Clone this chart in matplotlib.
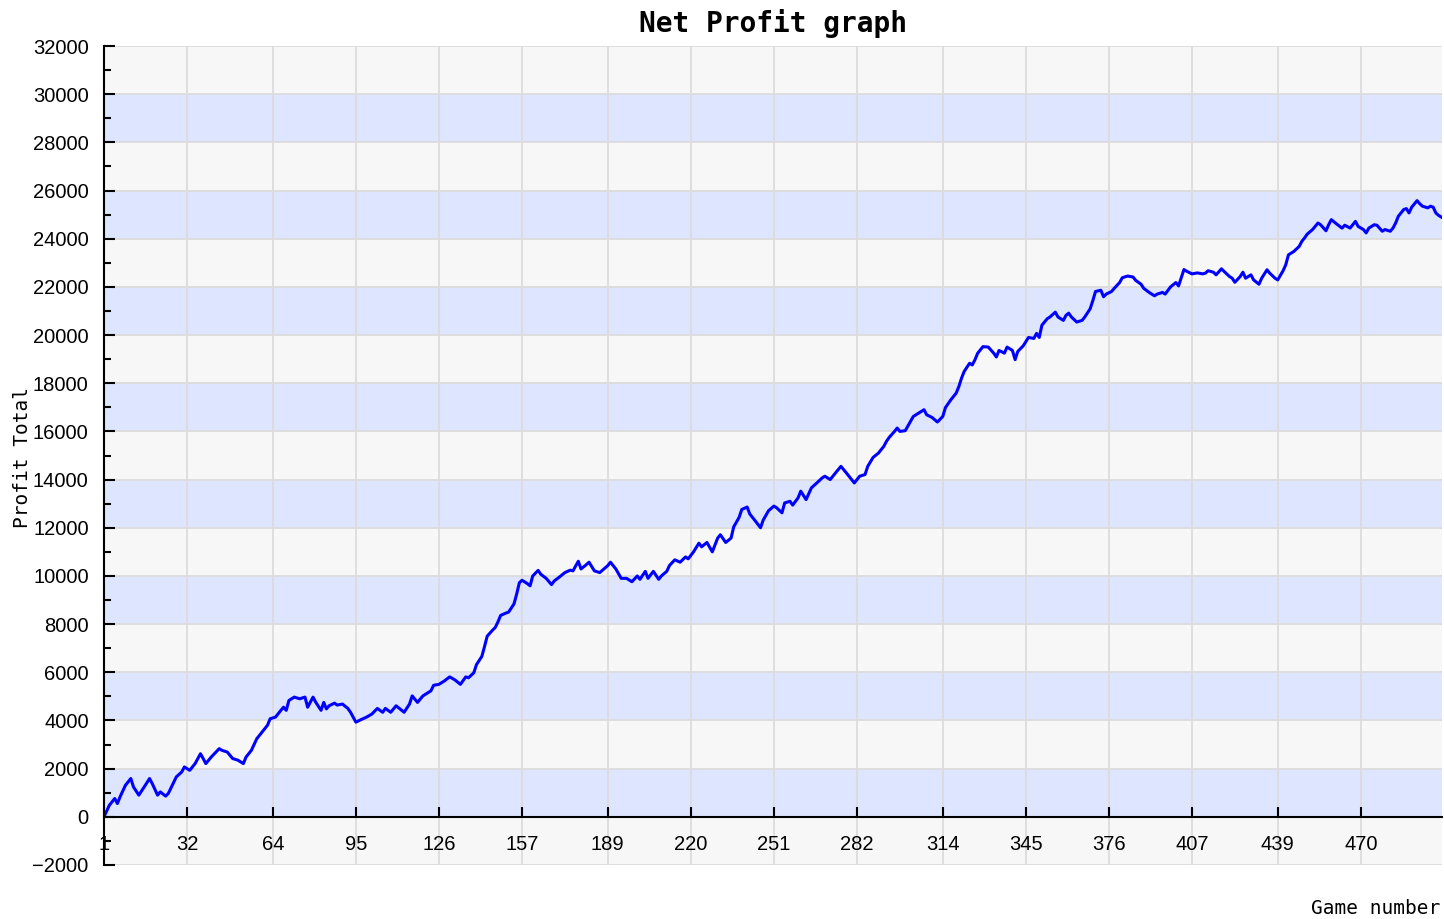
import matplotlib
matplotlib.use("Agg")
import matplotlib.pyplot as plt
from matplotlib.ticker import MultipleLocator

# ---- data ----
games = [1, 3, 5, 6, 7, 9, 11, 12, 14, 16, 18, 19, 21, 22, 24, 25, 28, 30, 31, 33, 35, 37, 38, 39, 41,
         44, 45, 47, 49, 51, 53, 54, 56, 58, 59, 60, 62, 63, 65, 67, 68, 69, 70, 72, 74, 76, 77, 79, 80, 82,
         83, 84, 85, 87, 88, 90, 92, 93, 95, 97, 99, 101, 103, 105, 106, 108, 110, 113, 115, 116, 118, 120,
         123, 124, 126, 128, 130, 132, 134, 136, 137, 139, 140, 142, 143, 144, 146, 147, 148, 149, 151, 152,
         154, 155, 156, 157, 159, 160, 161, 163, 164,
         166, 168, 169, 171, 173, 175, 176, 178, 179, 181, 182, 184, 186, 188, 189, 190, 192, 194, 196, 198,
         200, 201, 203, 204, 206, 208, 209, 211, 212, 214, 216, 218, 219, 221, 223, 224, 226, 228, 230, 231,
         233, 235, 236, 238, 239, 241, 242, 244, 246, 247, 249,
         251, 252, 254, 255, 257, 258, 260, 261, 263, 265, 267, 269, 270, 272, 274, 276, 278, 280, 281, 283,
         285, 286, 288, 290, 292, 293, 294, 296, 297, 298, 300, 302, 303, 305, 307, 308, 310, 312, 314, 315,
         317, 319, 320, 321, 322, 324, 325, 326, 327, 329,
         331, 333, 334, 335, 337, 338, 340, 341, 342, 344, 346, 348, 349, 350, 351, 353, 354, 356, 357, 359,
         360, 361, 362, 364, 366, 367, 369, 370, 371, 373, 374, 375, 377, 378, 380, 381, 383, 385, 386, 388,
         389, 391, 393, 394, 396, 397, 399, 401, 402, 403, 404, 405, 407, 409,
         411, 412, 413, 415, 416, 418, 419, 421, 422, 423, 425, 426, 427, 429, 430, 432, 433, 435, 436, 438,
         439, 441, 442, 443, 445, 447, 448, 449, 450, 452, 454, 455, 457, 458, 459, 461, 463, 464, 466, 468,
         469, 471, 472, 473, 475, 476, 478, 479, 481, 482, 483, 484, 486, 487, 488, 489, 491, 492, 493, 495,
         496, 497, 498, 499, 500]

profit = [0, 480, 760, 550, 830, 1310, 1590, 1240, 900, 1240, 1590, 1380, 900, 1035, 860, 970, 1660, 1860, 2070, 1930,
          2210, 2620, 2420, 2210, 2480, 2830, 2760, 2690, 2420, 2350, 2210, 2480, 2760, 3240, 3380, 3520, 3800, 4070, 4140, 4420,
          4550, 4420, 4830, 4970, 4900, 4970, 4550, 4970, 4760, 4420,
          4750, 4480, 4610, 4720, 4640, 4680, 4500, 4340, 3930, 4040, 4140, 4270, 4500, 4340, 4500, 4340, 4610, 4340, 4680, 5020,
          4750, 5020, 5230, 5460, 5500, 5640, 5810, 5680, 5500, 5810, 5770, 5980, 6320, 6660, 7070, 7500, 7750, 7860, 8090, 8360,
          8460, 8500, 8840, 9250, 9720, 9820, 9680, 9590, 10000, 10230, 10070,
          9900, 9640, 9790, 9960, 10140, 10240, 10210, 10610, 10290, 10470, 10570, 10210, 10140, 10330, 10430, 10570, 10290, 9900, 9900, 9760,
          10000, 9860, 10190, 9900, 10190, 9860, 10000, 10190, 10430, 10670, 10570, 10790, 10710, 11000, 11360, 11210, 11390, 11000, 11570, 11710,
          11390, 11570, 12040, 12430, 12760, 12860, 12570, 12290, 12000, 12320, 12710,
          12900, 12830, 12620, 13030, 13100, 12940, 13240, 13520, 13170, 13660, 13860, 14070, 14140, 14000, 14280, 14550, 14280, 14000, 13860, 14140,
          14210, 14550, 14920, 15100, 15380, 15590, 15750, 16000, 16140, 16000, 16030, 16420, 16620, 16760, 16900, 16690, 16580, 16390, 16620, 16990,
          17310, 17590, 17860, 18210, 18490, 18830, 18760, 18970, 19240, 19520,
          19500, 19250, 19090, 19360, 19250, 19500, 19360, 18980, 19320, 19550, 19900, 19860, 20070, 19900, 20410, 20680, 20750, 20950, 20750, 20610,
          20820, 20910, 20750, 20540, 20610, 20750, 21090, 21430, 21810, 21860, 21590, 21700, 21810, 21940, 22180, 22380, 22450, 22410, 22270, 22110,
          21940, 21770, 21630, 21700, 21770, 21700, 22000, 22180, 22040, 22380, 22720, 22650, 22540, 22580,
          22540, 22570, 22670, 22610, 22500, 22750, 22640, 22430, 22360, 22190, 22430, 22610, 22360, 22500, 22290, 22110, 22360, 22710, 22570, 22360,
          22290, 22670, 22920, 23330, 23470, 23680, 23890, 24030, 24190, 24380, 24650, 24580, 24330, 24580, 24790, 24610, 24440, 24560, 24440, 24720,
          24510, 24380, 24240, 24440, 24580, 24560, 24310, 24380, 24310, 24440, 24650, 24930, 25210, 25250, 25070, 25310, 25580, 25450, 25350, 25280,
          25350, 25310, 25070, 24970, 24900]

x_tick_labels = [1, 32, 64, 95, 126, 157, 189, 220, 251, 282, 314, 345, 376, 407, 439, 470]
y_ticks = list(range(-2000, 32001, 2000))

title = "Net Profit graph"
xlabel = "Game number"
ylabel = "Profit Total"

W, H = 1444, 919
fig = plt.figure(figsize=(W / 100, H / 100), dpi=100)
fig.patch.set_facecolor("white")
left, right, top, bottom = 104, 1442, 46, 865
ax = fig.add_axes([left / W, 1 - bottom / H, (right - left) / W, (bottom - top) / H])

ax.set_xlim(1, 500.3)
ax.set_ylim(-2000, 32000)

# alternating bands
for y0 in y_ticks[:-1]:
    col = "#dde5ff" if y0 % 4000 == 0 else "#f7f7f7"
    ax.axhspan(y0, y0 + 2000, color=col, zorder=0, lw=0)

ax.set_xticks(x_tick_labels)
ax.set_xticklabels([str(v) for v in x_tick_labels])
ax.set_yticks(y_ticks)
ax.yaxis.set_minor_locator(MultipleLocator(1000))
ax.grid(True, which="major", color="#dcdcdc", lw=1.3, zorder=1)
ax.set_axisbelow(True)

ax.plot(games, profit, color="#0000ff", lw=2.2, zorder=3)

for s in ["top", "right"]:
    ax.spines[s].set_visible(False)
ax.spines["bottom"].set_position(("data", 0))
ax.spines["bottom"].set_linewidth(1.5)
ax.spines["left"].set_linewidth(1.5)
ax.spines["bottom"].set_zorder(4)
ax.spines["left"].set_zorder(4)

tickfont = "Liberation Sans"
ax.tick_params(axis="x", direction="in", length=7, width=1.5, pad=13, labelsize=14.5)
ax.tick_params(axis="y", which="major", direction="in", length=8, width=1.5, pad=11, labelsize=14.5)
ax.tick_params(axis="y", which="minor", direction="in", length=5, width=1.5)
for lab in ax.get_xticklabels() + ax.get_yticklabels():
    lab.set_fontfamily(tickfont)

fig.text(773 / W, 1 - 24 / H, title, ha="center", va="center",
         fontsize=20, fontweight="bold", family="DejaVu Sans Mono")
fig.text(1440 / W, 1 - 908 / H, xlabel, ha="right", va="center",
         fontsize=14, family="DejaVu Sans Mono")
fig.text(23 / W, 1 - 458 / H, ylabel, ha="center", va="center", rotation=90,
         fontsize=14, family="DejaVu Sans Mono")

fig.savefig("out.png", dpi=100)
